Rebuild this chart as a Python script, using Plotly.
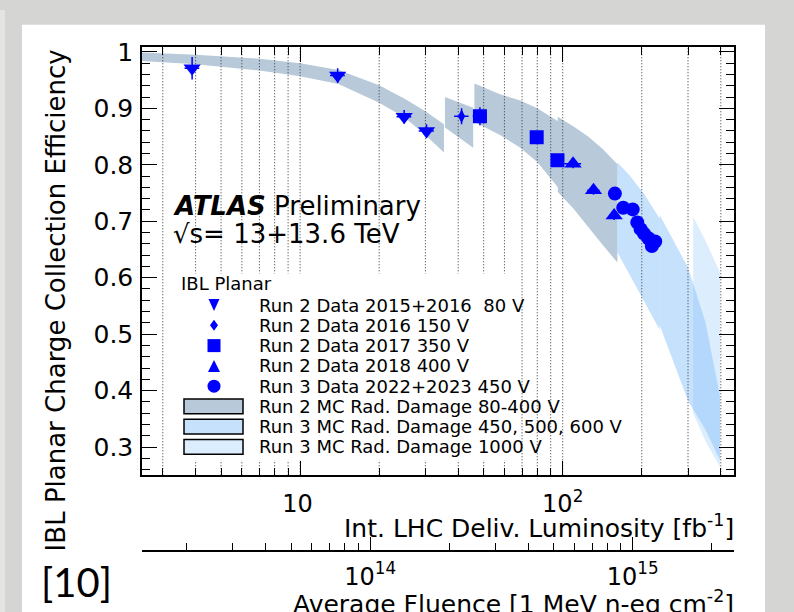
import numpy as np
import plotly.graph_objects as go

W, H = 794, 612

# ---------------- axis ranges ----------------
LUMI_RANGE = (2.5, 449.0)          # fb^-1
EFF_RANGE = (0.25, 1.008)
FLUENCE_PER_FB = 5.41e12           # 1 MeV n-eq cm^-2 per fb^-1

X_MAJOR = [10, 100]
# the empty superscript keeps both labels on the same baseline
X_MAJOR_TEXT = ["10<sup>\u00a0</sup>", "10<sup>2</sup>"]
X_MINOR = [3, 4, 5, 6, 7, 8, 9, 20, 30, 40, 50, 60, 70, 80, 90, 200, 300, 400]
GRID_LUMI = [3, 4, 5, 6, 7, 8, 9, 10, 20, 30, 40, 50, 60, 70, 80, 90, 100, 200, 300, 400]

Y_MAJOR = [0.3, 0.4, 0.5, 0.6, 0.7, 0.8, 0.9, 1.0]
Y_MAJOR_TEXT = ["0.3", "0.4", "0.5", "0.6", "0.7", "0.8", "0.9", "1"]

F_MAJOR = [1e14, 1e15]
F_MAJOR_TEXT = ["10<sup>14</sup>", "10<sup>15</sup>"]
F_MINOR = [2e13, 3e13, 4e13, 5e13, 6e13, 7e13, 8e13, 9e13,
           2e14, 3e14, 4e14, 5e14, 6e14, 7e14, 8e14, 9e14, 2e15]

# ---------------- measured charge collection efficiency ----------------
R2_1516_LUMI = [3.88, 13.9, 24.9, 30.3]
R2_1516_EFF = [0.971, 0.958, 0.885, 0.860]
R2_1516_LUMI_ERR = [0.25, 0.9, 1.6, 2.0]
R2_1516_EFF_ERR = [0.020, 0.013, 0.012, 0.012]

R2_2016_LUMI = [41.2]
R2_2016_EFF = [0.886]
R2_2016_LUMI_ERR = [2.6]
R2_2016_EFF_ERR = [0.014]

R2_2017_LUMI = [48.4, 79.6, 95.5]
R2_2017_EFF = [0.886, 0.849, 0.808]
R2_2017_LUMI_ERR = [3.0, 3.0, 4.0]
R2_2017_EFF_ERR = [0.016, 0.010, 0.010]

R2_2018_LUMI = [109.5, 131.0, 157.0]
R2_2018_EFF = [0.802, 0.755, 0.710]
R2_2018_LUMI_ERR = [8.0, 7.0, 6.0]
R2_2018_EFF_ERR = [0.008, 0.008, 0.008]

R3_LUMI = [158.0, 170.0, 184.7, 192.3, 198.0, 204.0, 212.0, 225.0, 218.5]
R3_EFF = [0.749, 0.724, 0.721, 0.698, 0.686, 0.678, 0.670, 0.664, 0.656]
R3_LUMI_ERR = [8, 8, 8, 10, 10, 10, 10, 12, 12]
R3_EFF_ERR = [0.008] * 9

# ---------------- simulated radiation damage bands ----------------
R2_A_LUMI = [2.5, 4.0, 7.0, 10.0, 14.0, 20.0, 25.0, 30.0, 35.3]
R2_A_HI = [0.999, 0.995, 0.988, 0.980, 0.968, 0.941, 0.917, 0.895, 0.872]
R2_A_LO = [0.984, 0.978, 0.967, 0.957, 0.943, 0.910, 0.884, 0.853, 0.822]

R2_B_LUMI = [35.6, 40.0, 45.6]
R2_B_HI = [0.920, 0.911, 0.901]
R2_B_LO = [0.866, 0.849, 0.830]

R2_C_LUMI = [46.1, 57.7, 68.9, 80.0, 96.0]
R2_C_HI = [0.944, 0.925, 0.914, 0.900, 0.877]
R2_C_LO = [0.876, 0.853, 0.830, 0.805, 0.760]

R2_D_LUMI = [95.8, 110.0, 125.0, 142.0, 161.5]
R2_D_HI = [0.885, 0.868, 0.850, 0.828, 0.801]
R2_D_LO = [0.752, 0.722, 0.690, 0.658, 0.627]

R3_E_LUMI = [161.5, 180.0, 205.0, 234.0]
R3_E_HI = [0.804, 0.781, 0.747, 0.705]
R3_E_LO = [0.645, 0.606, 0.557, 0.508]

R3_F_LUMI = [234.0, 260.0, 300.0, 350.0, 397.0]
R3_F_HI = [0.711, 0.672, 0.618, 0.520, 0.390]
R3_F_LO = [0.516, 0.460, 0.382, 0.330, 0.277]

R3_G_LUMI = [314.0, 350.0, 397.0]
R3_G_HI = [0.708, 0.665, 0.609]
R3_G_LO = [0.360, 0.310, 0.265]

# ---------------- legend ----------------
LEGEND_HEADER = "IBL Planar"
LEGEND_LABELS = [
    "Run 2 Data 2015+2016  80 V",
    "Run 2 Data 2016 150 V",
    "Run 2 Data 2017 350 V",
    "Run 2 Data 2018 400 V",
    "Run 3 Data 2022+2023 450 V",
    "Run 2 MC Rad. Damage 80-400 V",
    "Run 3 MC Rad. Damage 450, 500, 600 V",
    "Run 3 MC Rad. Damage 1000 V",
]

BLUE = "#0000ff"
RUN2_FILL = "rgb(184,201,218)"
RUN3_FILL = "rgba(140,195,250,0.5)"
RUN3_HV_FILL = "rgba(140,195,250,0.3)"
FONT = "DejaVu Sans"

# plot frame in pixels
PL, PR, PT, PB = 142, 734, 38, 473
FLUENCE_AXIS_Y = 550


def fx(px):
    return px / W


def fy(py):
    return 1 - py / H


fig = go.Figure()


def add_band(lumi, hi, lo, color):
    fig.add_trace(go.Scatter(
        x=list(lumi) + list(lumi)[::-1],
        y=list(hi) + list(lo)[::-1],
        fill="toself", fillcolor=color, mode="lines",
        line=dict(width=0), hoverinfo="skip", showlegend=False,
    ))


add_band(R2_A_LUMI, R2_A_HI, R2_A_LO, RUN2_FILL)
add_band(R2_B_LUMI, R2_B_HI, R2_B_LO, RUN2_FILL)
add_band(R2_C_LUMI, R2_C_HI, R2_C_LO, RUN2_FILL)
add_band(R2_D_LUMI, R2_D_HI, R2_D_LO, RUN2_FILL)
add_band(R3_E_LUMI, R3_E_HI, R3_E_LO, RUN3_FILL)
add_band(R3_F_LUMI, R3_F_HI, R3_F_LO, RUN3_FILL)
add_band(R3_G_LUMI, R3_G_HI, R3_G_LO, RUN3_HV_FILL)

# dotted vertical grid, drawn above the bands and below the points
gx, gy = [], []
for v in GRID_LUMI:
    gx += [v, v, None]
    gy += [EFF_RANGE[0], EFF_RANGE[1], None]
fig.add_trace(go.Scatter(
    x=gx, y=gy, mode="lines",
    line=dict(color="#333333", width=1, dash="1px,2px"),
    hoverinfo="skip", showlegend=False,
))


def add_points(lumi, eff, lumi_err, eff_err, symbol, size):
    fig.add_trace(go.Scatter(
        x=lumi, y=eff, mode="markers",
        marker=dict(symbol=symbol, size=size, color=BLUE, line=dict(width=0)),
        error_x=dict(type="data", array=lumi_err, color=BLUE, thickness=1.5, width=0),
        error_y=dict(type="data", array=eff_err, color=BLUE, thickness=1.5, width=0),
        hoverinfo="skip", showlegend=False,
    ))


add_points(R2_1516_LUMI, R2_1516_EFF, R2_1516_LUMI_ERR, R2_1516_EFF_ERR, "triangle-down", 15)
add_points(R2_2016_LUMI, R2_2016_EFF, R2_2016_LUMI_ERR, R2_2016_EFF_ERR, "diamond-tall", 10)
add_points(R2_2017_LUMI, R2_2017_EFF, R2_2017_LUMI_ERR, R2_2017_EFF_ERR, "square", 14)
add_points(R2_2018_LUMI, R2_2018_EFF, R2_2018_LUMI_ERR, R2_2018_EFF_ERR, "triangle-up", 15)
add_points(R3_LUMI, R3_EFF, R3_LUMI_ERR, R3_EFF_ERR, "circle", 14)

# fluence axis needs a trace to be drawn
fig.add_trace(go.Scatter(
    x=[LUMI_RANGE[0] * FLUENCE_PER_FB, LUMI_RANGE[1] * FLUENCE_PER_FB],
    y=[None, None], xaxis="x2", yaxis="y", mode="markers",
    hoverinfo="skip", showlegend=False,
))

tick_font = dict(family=FONT, size=24, color="black")

fig.update_layout(
    width=W, height=H,
    margin=dict(l=0, r=0, t=0, b=0),
    paper_bgcolor="#d5d5d3",
    plot_bgcolor="white",
    showlegend=False,
    xaxis=dict(
        type="log", range=[np.log10(LUMI_RANGE[0]), np.log10(LUMI_RANGE[1])],
        domain=[fx(PL), fx(PR)], anchor="y",
        showline=True, linecolor="black", linewidth=1.5, mirror="ticks",
        ticks="inside", ticklen=15, tickwidth=1.2, tickcolor="black",
        tickmode="array", tickvals=X_MAJOR, ticktext=X_MAJOR_TEXT,
        tickfont=tick_font, ticklabelstandoff=6,
        showgrid=False, zeroline=False,
        minor=dict(tickmode="array", tickvals=X_MINOR, ticks="inside",
                   ticklen=8, tickwidth=1.2, tickcolor="black", showgrid=False),
    ),
    xaxis2=dict(
        type="log",
        range=[np.log10(LUMI_RANGE[0] * FLUENCE_PER_FB),
               np.log10(LUMI_RANGE[1] * FLUENCE_PER_FB)],
        overlaying="x", anchor="free", position=fy(FLUENCE_AXIS_Y), side="bottom",
        showline=True, linecolor="black", linewidth=1.5,
        ticks="inside", ticklen=13, tickwidth=1.2, tickcolor="black",
        tickmode="array", tickvals=F_MAJOR, ticktext=F_MAJOR_TEXT,
        tickfont=tick_font, ticklabelstandoff=4,
        showgrid=False, zeroline=False,
        minor=dict(tickmode="array", tickvals=F_MINOR, ticks="inside",
                   ticklen=7, tickwidth=1.2, tickcolor="black", showgrid=False),
    ),
    yaxis=dict(
        range=list(EFF_RANGE), domain=[fy(PB), fy(PT)], anchor="x",
        showline=True, linecolor="black", linewidth=1.5, mirror="ticks",
        ticks="inside", ticklen=15, tickwidth=1.2, tickcolor="black",
        tickmode="array", tickvals=Y_MAJOR, ticktext=Y_MAJOR_TEXT,
        tickfont=dict(family=FONT, size=25, color="black"), ticklabelstandoff=2,
        showgrid=False, zeroline=False,
        minor=dict(tickmode="linear", tick0=0, dtick=0.02, ticks="inside",
                   ticklen=8, tickwidth=1.2, tickcolor="black", showgrid=False),
    ),
)

shapes = [
    # slide panel
    dict(type="rect", xref="paper", yref="paper", x0=fx(22), x1=fx(765), y0=0, y1=fy(15),
         fillcolor="white", line=dict(width=0), layer="below"),
    dict(type="rect", xref="paper", yref="paper", x0=0, x1=fx(5), y0=0, y1=1,
         fillcolor="#e4e4e4", line=dict(width=0), layer="below"),
    # legend background
    dict(type="rect", xref="paper", yref="paper", x0=fx(170), x1=fx(515), y0=fy(458), y1=fy(268),
         fillcolor="white", line=dict(width=0), layer="above"),
]

LEG_ROW0, LEG_STEP = 300.0, 20.6
LEG_SYM_X, LEG_TEXT_X = 214, 257
rows = [LEG_ROW0 + i * LEG_STEP for i in range(len(LEGEND_LABELS))]


def pix_shape(kind, cx, cy, **kw):
    d = dict(type=kind, xref="paper", yref="paper", xsizemode="pixel", ysizemode="pixel",
             xanchor=fx(cx), yanchor=fy(cy), fillcolor=BLUE, line=dict(width=0), layer="above")
    d.update(kw)
    return d


shapes.append(pix_shape("path", LEG_SYM_X, rows[0], path="M -5.5,6 L 5.5,6 L 0,-6 Z"))
shapes.append(pix_shape("path", LEG_SYM_X, rows[1], path="M 0,5.5 L 4,0 L 0,-5.5 L -4,0 Z"))
shapes.append(pix_shape("rect", LEG_SYM_X, rows[2], x0=-6.5, x1=6.5, y0=-6.5, y1=6.5))
shapes.append(pix_shape("path", LEG_SYM_X, rows[3], path="M -6,-6 L 6,-6 L 0,6 Z"))
shapes.append(pix_shape("circle", LEG_SYM_X, rows[4], x0=-6.5, x1=6.5, y0=-6.5, y1=6.5))
for r, col in zip(rows[5:], [RUN2_FILL, RUN3_FILL, RUN3_HV_FILL]):
    shapes.append(dict(type="rect", xref="paper", yref="paper",
                       x0=fx(184), x1=fx(243), y0=fy(r + 7.5), y1=fy(r - 7.5),
                       fillcolor=col, line=dict(color="black", width=1.5), layer="above"))

annotations = []


def text(s, x, y, size, xanchor="left", yanchor="middle", family=FONT, **kw):
    annotations.append(dict(text=s, x=fx(x), y=fy(y), xref="paper", yref="paper",
                            xanchor=xanchor, yanchor=yanchor, showarrow=False,
                            font=dict(family=family, size=size, color="black"), **kw))


text(LEGEND_HEADER, 179, 278, 18)
for lab, r in zip(LEGEND_LABELS, rows):
    text(lab, LEG_TEXT_X, r, 18)

text("<b><i>ATLAS</i></b> Preliminary", 171, 199, 26)
text("√s= 13+13.6 TeV", 171, 228, 26)

text("Int. LHC Deliv. Luminosity [fb<sup>-1</sup>]", PR + 2, 525, 25, xanchor="right")
text("Average Fluence [1 MeV n-eq cm<sup>-2</sup>]", PR + 2, 602, 25, xanchor="right")
text("IBL Planar Charge Collection Efficiency", 56, PT, 26, xanchor="center", yanchor="top",
     textangle=-90)
text("[10]", 39, 582, 40, family="Lato")

fig.update_layout(shapes=shapes, annotations=annotations)

fig.write_html("out.html")
